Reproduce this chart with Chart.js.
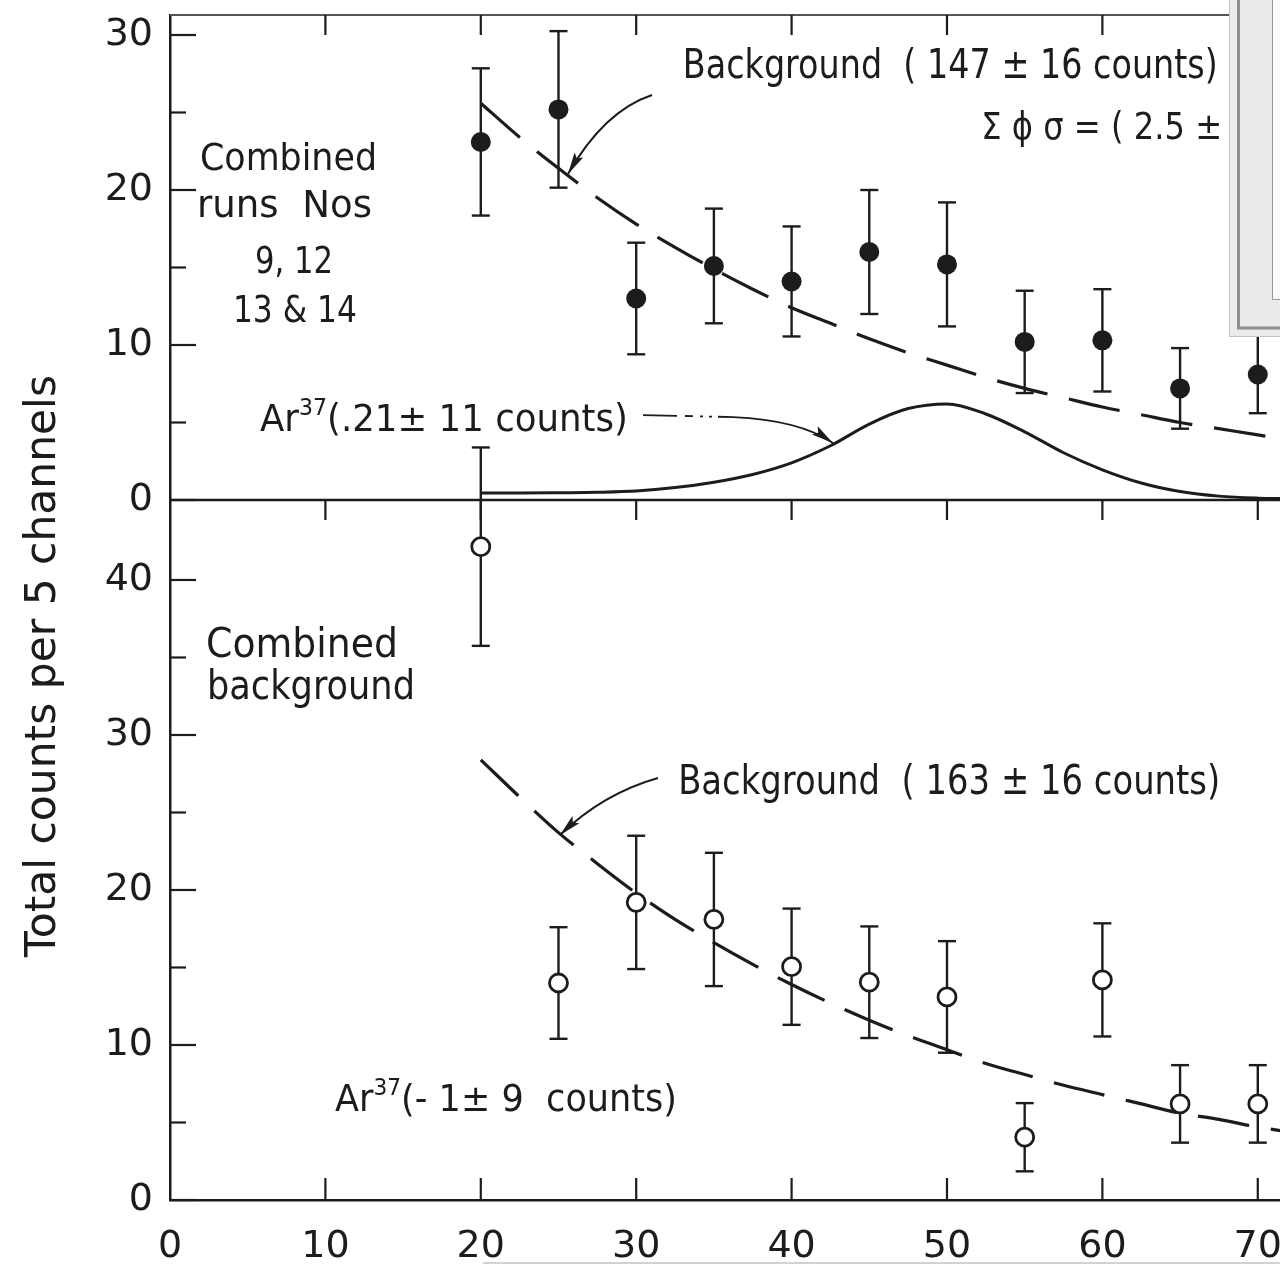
<!DOCTYPE html>
<html>
<head>
<meta charset="utf-8">
<title>Ar37 counts per 5 channels</title>
<script src="https://cdn.jsdelivr.net/npm/chart.js@4.4.1/dist/chart.umd.min.js"></script>
<style>
  html, body { margin: 0; padding: 0; background: #fff; }
  #spectrum { display: block; }
</style>
</head>
<body>
<canvas id="spectrum" width="1280" height="1269"></canvas>
<script>
// channel bins shared by both panels
const binX = [20, 25, 30, 35, 40, 45, 50, 55, 60, 65, 70];

// upper panel: combined runs 9, 12, 13 & 14
const runCounts = [23.1, 25.2, 13.0, 15.1, 14.1, 16.0, 15.2, 10.2, 10.3, 7.2, 8.1];
const runErrors = [4.75, 5.05, 3.6, 3.7, 3.55, 4.0, 4.0, 3.3, 3.3, 2.6, 2.5];

// lower panel: combined background
const bkgCounts = [42.15, 14.0, 19.2, 18.1, 15.05, 14.05, 13.1, 4.05, 14.2, 6.2, 6.2];
const bkgErrors = [6.4, 3.6, 4.3, 4.3, 3.75, 3.6, 3.6, 2.2, 3.65, 2.5, 2.5];

// fitted curves, sampled along the channel axis
const fitX = [20, 22.5, 25, 27.5, 30, 32.5, 35, 37.5, 40, 42.5, 45, 47.5, 50, 52.5, 55, 57.5, 60, 62.5, 65, 67.5, 70, 72];
const runBackground = [25.6, 23.4, 21.4, 19.5, 17.8, 16.3, 14.9, 13.6, 12.4, 11.4, 10.4, 9.5, 8.7, 7.9, 7.2, 6.6, 6.0, 5.5, 5.0, 4.6, 4.2, 3.9];
const runAr37 = [0.45, 0.45, 0.47, 0.5, 0.58, 0.8, 1.15, 1.65, 2.4, 3.5, 4.9, 5.9, 6.2, 5.55, 4.4, 3.05, 1.95, 1.1, 0.55, 0.25, 0.12, 0.08];
const bkgBackground = [28.4, 26.0, 23.7, 21.7, 19.8, 18.1, 16.6, 15.2, 13.9, 12.7, 11.6, 10.6, 9.7, 8.8, 8.1, 7.4, 6.8, 6.2, 5.6, 5.2, 4.7, 4.4];

// axis ticks
const xTicks = [0, 10, 20, 30, 40, 50, 60, 70];
const topTicks = [0, 10, 20, 30];
const topMinor = [5, 15, 25];
const botTicks = [0, 10, 20, 30, 40];
const botMinor = [5, 15, 25, 35];

const INK = '#1c1c1c';
const FACE = '"DejaVu Sans", sans-serif';

function pts(xs, ys) {
  return xs.map((x, i) => ({ x: x, y: ys[i] }));
}

function line(ctx, x0, y0, x1, y1) {
  ctx.beginPath();
  ctx.moveTo(x0, y0);
  ctx.lineTo(x1, y1);
  ctx.stroke();
}

// condensed lettering: parts are [text, superscript?], squeezed to a width
function letter(ctx, parts, px, py, size, width) {
  const sup = size * 0.62;
  let natural = 0;
  parts.forEach(([t, up]) => {
    ctx.font = `${up ? sup : size}px ${FACE}`;
    natural += ctx.measureText(t).width;
  });
  const sx = width ? width / natural : 1;
  ctx.save();
  ctx.translate(px, py);
  ctx.scale(sx, 1);
  let cx = 0;
  parts.forEach(([t, up]) => {
    ctx.font = `${up ? sup : size}px ${FACE}`;
    ctx.fillText(t, cx, up ? -size * 0.42 : 0);
    cx += ctx.measureText(t).width;
  });
  ctx.restore();
}

function arrowHead(ctx, from, tip) {
  const ang = Math.atan2(tip[1] - from[1], tip[0] - from[0]);
  ctx.save();
  ctx.translate(tip[0], tip[1]);
  ctx.rotate(ang);
  ctx.beginPath();
  ctx.moveTo(0, 0);
  ctx.lineTo(-22, -5);
  ctx.lineTo(-18, 0);
  ctx.lineTo(-22, 5);
  ctx.closePath();
  ctx.fill();
  ctx.restore();
}

// vertical error bars with caps, under the markers
const errorBars = {
  id: 'errorBars',
  beforeDatasetsDraw(chart) {
    const { ctx, scales: { x, yTop, yBot } } = chart;
    ctx.save();
    ctx.strokeStyle = INK;
    ctx.lineWidth = 2.4;
    const draw = (ys, errs, s) => {
      binX.forEach((v, i) => {
        const px = x.getPixelForValue(v);
        const hi = s.getPixelForValue(ys[i] + errs[i]);
        const lo = s.getPixelForValue(ys[i] - errs[i]);
        line(ctx, px, hi, px, lo);
        line(ctx, px - 9, hi, px + 9, hi);
        line(ctx, px - 9, lo, px + 9, lo);
      });
    };
    draw(runCounts, runErrors, yTop);
    draw(bkgCounts, bkgErrors, yBot);
    ctx.restore();
  }
};

// panel frame and inward tick marks
const frame = {
  id: 'frame',
  afterDatasetsDraw(chart) {
    const { ctx, chartArea: a, scales: { x, yTop, yBot } } = chart;
    ctx.save();
    ctx.strokeStyle = '#555';
    ctx.lineWidth = 2;
    line(ctx, a.left, yTop.top, a.right, yTop.top);
    ctx.strokeStyle = INK;
    ctx.lineWidth = 2.5;
    line(ctx, a.left, yTop.bottom, a.right, yTop.bottom);
    ctx.lineWidth = 2.2;
    xTicks.slice(1).forEach(v => {
      const px = x.getPixelForValue(v);
      line(ctx, px, yTop.top, px, yTop.top + 20);
      line(ctx, px, yTop.bottom, px, yTop.bottom + 20);
      line(ctx, px, yBot.bottom, px, yBot.bottom - 22);
    });
    const yt = (s, vals, len) => vals.forEach(v => {
      const py = s.getPixelForValue(v);
      line(ctx, a.left, py, a.left + len, py);
    });
    yt(yTop, topTicks, 26);
    yt(yTop, topMinor, 16);
    yt(yBot, botTicks, 26);
    yt(yBot, botMinor, 16);
    ctx.restore();
  }
};

// lettering and arrows on both panels
const notes = {
  id: 'notes',
  afterDatasetsDraw(chart) {
    const { ctx, scales } = chart;
    const { x, yTop, yBot } = scales;
    const P = (s, vx, vy) => [x.getPixelForValue(vx), s.getPixelForValue(vy)];
    const texts = [
      [yTop, 33.0, 27.2, 41, 535, [['Background  ( 147 ± 16 counts)']]],
      [yTop, 52.2, 23.3, 37, 241, [['Σ ϕ σ = ( 2.5 ±']]],
      [yTop, 1.93, 21.3, 38, 177, [['Combined']]],
      [yTop, 1.74, 18.26, 38, 175, [['runs  Nos']]],
      [yTop, 5.47, 14.65, 38, 78, [['9, 12']]],
      [yTop, 4.05, 11.48, 38, 124, [['13 & 14']]],
      [yTop, 5.79, 4.45, 37, 368, [['Ar'], ['37', true], ['(.21± 11 counts)']]],
      [yBot, 2.32, 35.0, 40, 192, [['Combined']]],
      [yBot, 2.38, 32.3, 40, 208, [['background']]],
      [yBot, 32.7, 26.2, 41, 542, [['Background  ( 163 ± 16 counts)']]],
      [yBot, 10.62, 5.74, 38, 342, [['Ar'], ['37', true], ['(- 1± 9  counts)']]]
    ];
    ctx.save();
    ctx.fillStyle = INK;
    ctx.textBaseline = 'alphabetic';
    ctx.textAlign = 'left';
    texts.forEach(([s, vx, vy, size, w, parts]) => {
      const [px, py] = P(s, vx, vy);
      letter(ctx, parts, px, py, size, w);
    });

    // axis title, reading upwards
    ctx.save();
    ctx.translate(chart.chartArea.left - 115, yBot.getPixelForValue(34.45));
    ctx.rotate(-Math.PI / 2);
    ctx.font = `42px ${FACE}`;
    const title = 'Total counts per 5 channels';
    const tw = ctx.measureText(title).width;
    ctx.scale(582 / tw, 1);
    ctx.textAlign = 'center';
    ctx.fillText(title, 0, 0);
    ctx.restore();

    // pointer to the upper background curve
    ctx.strokeStyle = INK;
    ctx.lineWidth = 2;
    let p0 = P(yTop, 31.02, 26.13), c = P(yTop, 27.93, 25.1), tip = P(yTop, 25.61, 21.03);
    ctx.beginPath();
    ctx.moveTo(p0[0], p0[1]);
    ctx.quadraticCurveTo(c[0], c[1], tip[0], tip[1]);
    ctx.stroke();
    arrowHead(ctx, c, tip);

    // pointer to the lower background curve
    p0 = P(yBot, 31.4, 27.23); c = P(yBot, 27.86, 26.23); tip = P(yBot, 25.1, 23.55);
    ctx.beginPath();
    ctx.moveTo(p0[0], p0[1]);
    ctx.quadraticCurveTo(c[0], c[1], tip[0], tip[1]);
    ctx.stroke();
    arrowHead(ctx, c, tip);

    // dash-dot leader from the Ar37 label to its peak
    p0 = P(yTop, 30.44, 5.48);
    const bend = P(yTop, 36.23, 5.35);
    c = P(yTop, 40.54, 5.16);
    tip = P(yTop, 42.66, 3.68);
    ctx.lineWidth = 1.8;
    ctx.setLineDash([34, 8, 8, 7, 3, 6, 3, 6, 400]);
    ctx.beginPath();
    ctx.moveTo(p0[0], p0[1]);
    ctx.lineTo(bend[0], bend[1]);
    ctx.quadraticCurveTo(c[0], c[1], tip[0], tip[1]);
    ctx.stroke();
    ctx.setLineDash([]);
    arrowHead(ctx, c, tip);
    ctx.restore();
  }
};

// edge of an overlapping window and a scanner edge line
const overlay = {
  id: 'overlay',
  afterDraw(chart) {
    const { ctx, width } = chart;
    ctx.save();
    ctx.strokeStyle = '#d2d2d2';
    ctx.lineWidth = 2;
    line(ctx, 483, 1263, width, 1263);

    ctx.fillStyle = '#ebebe9';
    ctx.fillRect(1229, 0, width - 1229, 337);
    ctx.strokeStyle = '#c4c4c4';
    ctx.lineWidth = 1;
    line(ctx, 1229.5, 0, 1229.5, 337);
    line(ctx, 1229, 336.5, width, 336.5);
    ctx.strokeStyle = '#8f8f8f';
    ctx.lineWidth = 3;
    line(ctx, 1238.5, 0, 1238.5, 328);
    line(ctx, 1237, 328, width, 328);
    ctx.fillStyle = '#fbfbfb';
    ctx.fillRect(1272, 0, width - 1272, 299);
    ctx.strokeStyle = '#9a9a9a';
    ctx.lineWidth = 1;
    line(ctx, 1272.5, 0, 1272.5, 299);
    line(ctx, 1272, 299.5, width, 299.5);
    ctx.restore();
  }
};

const yCommon = {
  type: 'linear',
  position: 'left',
  stack: 'panels',
  grid: { display: false, drawTicks: false },
  border: { display: true, color: INK, width: 2.5 },
  ticks: { padding: 17, color: INK, font: { family: FACE, size: 38 }, autoSkip: false },
  afterFit: s => { s.width = 170; s.paddingTop = 0; s.paddingBottom = 0; }
};

new Chart(document.getElementById('spectrum'), {
  type: 'scatter',
  data: {
    datasets: [
      {
        label: 'Combined runs 9, 12, 13 & 14',
        data: pts(binX, runCounts),
        yAxisID: 'yTop',
        pointRadius: 10,
        pointBackgroundColor: INK,
        pointBorderColor: INK,
        pointBorderWidth: 0,
        order: 0
      },
      {
        label: 'Combined background',
        data: pts(binX, bkgCounts),
        yAxisID: 'yBot',
        pointRadius: 9,
        pointBackgroundColor: '#fff',
        pointBorderColor: INK,
        pointBorderWidth: 2.8,
        order: 0
      },
      {
        type: 'line',
        label: 'Background (147 ± 16 counts)',
        data: pts(fitX, runBackground),
        yAxisID: 'yTop',
        borderColor: INK,
        borderWidth: 3.2,
        borderDash: [52, 22],
        pointRadius: 0,
        cubicInterpolationMode: 'monotone',
        fill: false,
        order: 1
      },
      {
        type: 'line',
        label: 'Ar37 (21 ± 11 counts)',
        data: pts(fitX, runAr37),
        yAxisID: 'yTop',
        borderColor: INK,
        borderWidth: 3,
        pointRadius: 0,
        cubicInterpolationMode: 'monotone',
        fill: false,
        order: 1
      },
      {
        type: 'line',
        label: 'Background (163 ± 16 counts)',
        data: pts(fitX, bkgBackground),
        yAxisID: 'yBot',
        borderColor: INK,
        borderWidth: 3.2,
        borderDash: [52, 22],
        pointRadius: 0,
        cubicInterpolationMode: 'monotone',
        fill: false,
        order: 1
      }
    ]
  },
  options: {
    responsive: false,
    devicePixelRatio: 1,
    animation: false,
    events: [],
    layout: { autoPadding: false, padding: { top: 15, left: 0, right: 0, bottom: 0 } },
    plugins: {
      legend: { display: false },
      tooltip: { enabled: false }
    },
    scales: {
      x: {
        type: 'linear',
        position: 'bottom',
        min: 0,
        max: 71.43,
        grid: { display: false, drawTicks: false },
        border: { display: true, color: INK, width: 2.5 },
        ticks: { padding: 24, color: INK, font: { family: FACE, size: 38 }, autoSkip: false, maxRotation: 0 },
        afterBuildTicks: s => { s.ticks = xTicks.map(v => ({ value: v })); },
        afterFit: s => { s.height = 69; s.paddingLeft = 0; s.paddingRight = 0; }
      },
      yTop: Object.assign({}, yCommon, {
        min: 0,
        max: 31.29,
        stackWeight: 485,
        weight: 2,
        afterBuildTicks: s => { s.ticks = topTicks.map(v => ({ value: v })); }
      }),
      yBot: Object.assign({}, yCommon, {
        min: 0,
        max: 45.16,
        stackWeight: 700,
        weight: 1,
        afterBuildTicks: s => { s.ticks = botTicks.map(v => ({ value: v })); }
      })
    }
  },
  plugins: [errorBars, frame, notes, overlay]
});
</script>
</body>
</html>
